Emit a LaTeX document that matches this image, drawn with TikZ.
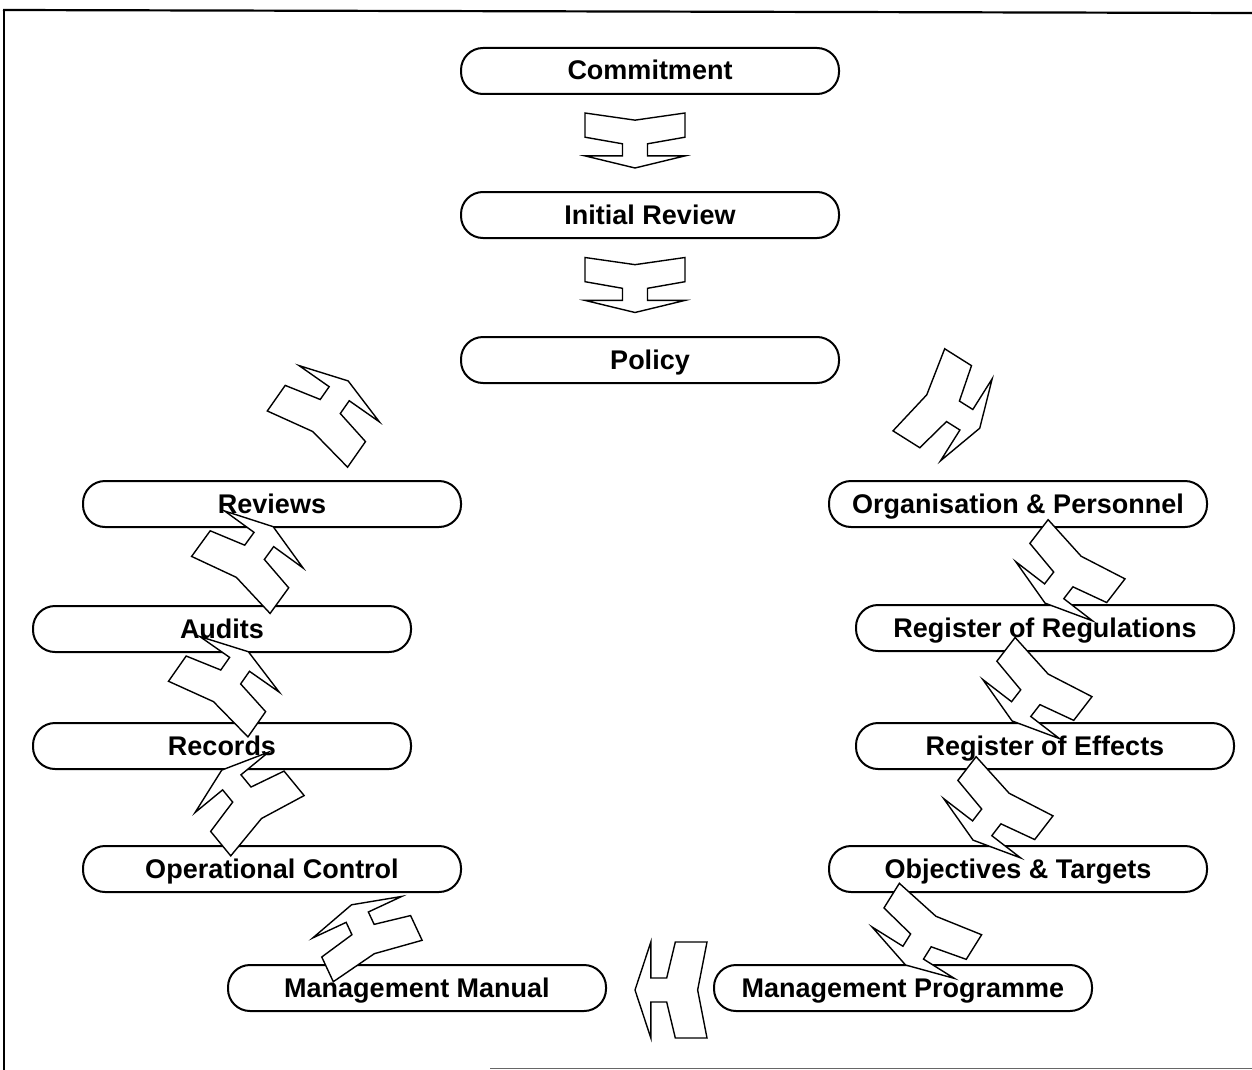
\documentclass[tikz,border=0pt]{standalone}
\usepackage{fontspec}
\setmainfont{Liberation Sans}
\begin{document}
\begin{tikzpicture}[x=1pt,y=-1pt,
  stage/.style={draw,line width=2pt,rounded corners=22pt,minimum width=378pt,
    minimum height=46pt,inner sep=0pt,text height=19pt,text depth=1pt,
    font=\fontsize{27}{30}\selectfont\bfseries},
  hshape/.style={draw,fill=white,line width=1.4pt,line join=miter}]
\useasboundingbox (0,0) rectangle (1252,1070);
% page frame
\draw[line width=2.2pt] (3,10) -- (1252,13);
\draw[line width=2.2pt] (4,10) -- (4,1070);
\draw[line width=1pt,black!60] (490,1068) -- (1252,1068);

% block arrow: centre x, centre y, direction angle, length, width
\newcommand\harrow[5]{%
  \begin{scope}[shift={(#1,#2)},rotate=#3]
    \pgfmathsetmacro\hL{#4/2}\pgfmathsetmacro\hW{#5/2}
    \draw[hshape] ({\hL},0) -- ({\hL-0.22*#4},{\hW}) -- ({\hL-0.22*#4},{0.25*\hW})
      -- ({\hL-0.44*#4},{0.25*\hW}) -- ({\hL-0.56*#4},{\hW}) -- ({-\hL},{\hW})
      -- ({\hL-0.87*#4},0) -- ({-\hL},{-\hW}) -- ({\hL-0.56*#4},{-\hW})
      -- ({\hL-0.44*#4},{-0.25*\hW}) -- ({\hL-0.22*#4},{-0.25*\hW})
      -- ({\hL-0.22*#4},{-\hW}) -- cycle;
  \end{scope}}

% stages
\node[stage] (commit) at (650,71)  {Commitment};
\node[stage] (initrev) at (650,215) {Initial Review};
\node[stage] (policy) at (650,360) {Policy};
\node[stage] (reviews) at (272,504) {Reviews};
\node[stage] (audits) at (222,629) {Audits};
\node[stage] (records) at (222,746) {Records};
\node[stage] (opctrl) at (272,869) {Operational Control};
\node[stage] (manual) at (417,988) {Management Manual};
\node[stage] (orgpers) at (1018,504) {Organisation \& Personnel};
\node[stage] (regregs) at (1045,628) {Register of Regulations};
\node[stage] (regeff) at (1045,746) {Register of Effects};
\node[stage] (objtgt) at (1018,869) {Objectives \& Targets};
\node[stage] (progr) at (903,988) {Management Programme};

% flow arrows
\harrow{635}{140.5}{-90}{55}{100}
\harrow{635}{285}{-90}{55}{100}
\harrow{949.3}{409}{-32.2}{72}{97}
\harrow{1065.8}{576.2}{-127.6}{68}{97}
\harrow{1032.8}{694}{-127.6}{68}{97}
\harrow{993.8}{813.2}{-127.6}{68}{97}
\harrow{923}{937}{-122}{66}{97}
\harrow{671}{990}{180}{72}{96}
\harrow{364.6}{932.9}{115}{62}{98}
\harrow{244.6}{797.9}{129.4}{72}{95}
\harrow{228.3}{680.4}{55}{70}{97}
\harrow{252}{555.8}{54}{72}{97}
\harrow{327.8}{410}{55}{71}{98}
\end{tikzpicture}
\end{document}
